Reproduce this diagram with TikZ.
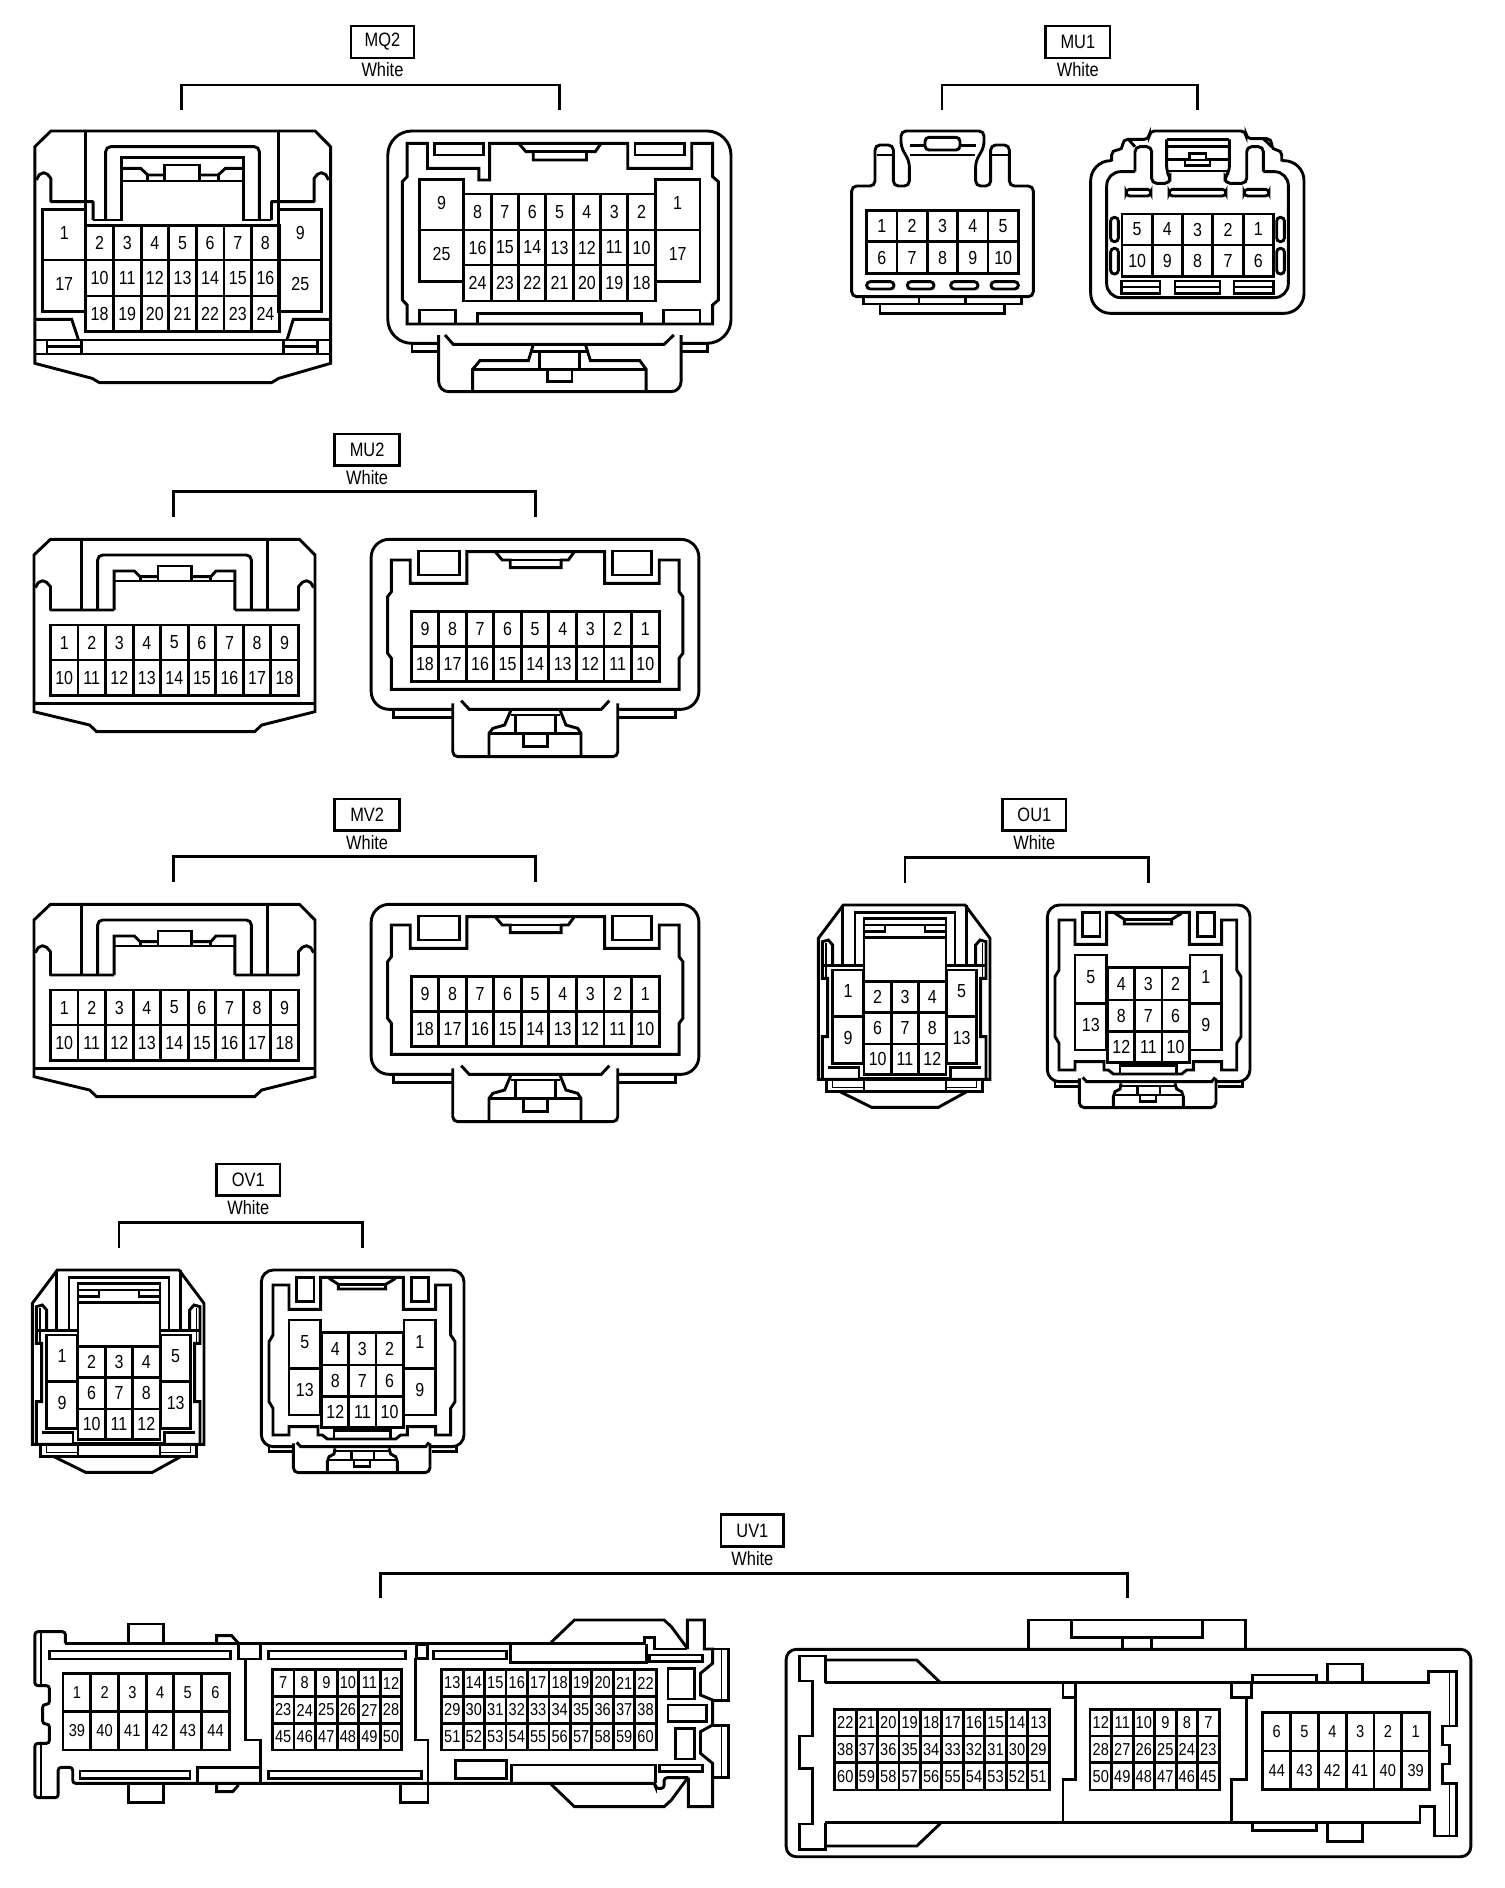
\documentclass[tikz,border=0pt]{standalone}
\usepackage{fontspec}
\usepackage{graphicx}
\setmainfont{Liberation Sans}
\newcommand\T[1]{\scalebox{1}[1.18]{#1}}
\tikzset{
  ln/.style={line width=1.45pt,line join=miter,line cap=butt},
  thn/.style={line width=0.8pt},
  pin/.style={inner sep=0pt,font=\fontsize{8}{9}\selectfont},
  lab/.style={inner sep=0pt,font=\fontsize{8.2}{9}\selectfont},
  rc/.style={rounded corners=2.5pt},
  rcb/.style={rounded corners=9pt},
  panelA/.style={x=0.24237pt,y=-0.16667pt},
  panelB/.style={x=0.16667pt,y=-0.16667pt},
  panelC/.style={x=0.2374pt,y=-0.16667pt},
  panelD/.style={x=0.2358pt,y=-0.16667pt}
}
% row of cells: prefix, y0, y1, x0, dx, labels
\newcommand\pinrow[6]{\foreach \t [count=\i from 0] in {#6}{%
  \draw[ln] ({#4+\i*#5},#2) rectangle ({#4+(\i+1)*#5},#3);
  \node[pin] (#1\t) at ({#4+(\i+0.5)*#5},{(#2+#3)/2}) {\T{\t}};}}
% single cell: prefix, x0,y0,x1,y1,label
\newcommand\cell[6]{\draw[ln] (#2,#3) rectangle (#4,#5);
  \node[pin] (#1#6) at ({(#2+#4)/2},{(#3+#5)/2-6}) {\T{#6}};}
% header
\newcommand\hdr[9]{\draw[ln] (#3,#4) rectangle (#5,#6);
  \node[lab] (#1box) at ({(#3+#5)/2},{(#4+#6)/2}) {\T{#2}};
  \node[lab] (#1col) at ({(#3+#5)/2},{#6+36}) {\T{White}};
  \coordinate (#1a) at (#7,{#8+75});
  \coordinate (#1b) at (#7,#8);
  \coordinate (#1c) at (#9,#8);
  \coordinate (#1d) at (#9,{#8+75});
  \draw[ln] (#1a) -- (#1b) -- (#1c) -- (#1d);}
\newcommand\slot[4]{\draw[ln,rounded corners=1.8pt] (#1,#2) rectangle (#3,#4);}
% MU2 / MV2 pair
\newcommand\connMU[2]{%
  \hdr{#1}{#2}{710}{42}{847}{137}{368}{215}{1135}
  % left
  \draw[ln] (107,358) -- (635,358) -- (668,405) -- (668,875) -- (555,915) -- (540,935) -- (205,935) -- (190,915) -- (72,875) -- (72,405) -- cycle;
  \draw[ln] (72,850) -- (668,850);
  \draw[ln,rc] (172,570) -- (172,358);
  \draw[ln,rc] (568,358) -- (568,570);
  \draw[ln,rc] (207,570) -- (207,405) -- (533,405) -- (533,570);
  \draw[ln] (242,570) -- (242,453) -- (285,453) -- (297,470) -- (335,470);
  \draw[ln] (335,438) rectangle (407,483);
  \draw[ln] (407,470) -- (447,470) -- (458,453) -- (498,453) -- (498,570);
  \draw[ln] (242,483) -- (498,483);
  \draw[ln] (297,470) -- (297,483) (447,470) -- (447,483);
  \draw[ln,line join=round] (242,570) -- (107,570) -- (107,500) -- (99,487) -- (90,482) -- (81,488) -- (75,503);
  \draw[ln,line join=round] (498,570) -- (633,570) -- (633,500) -- (641,487) -- (650,482) -- (659,488) -- (665,503);
  \pinrow{#1l}{615}{720}{107}{58.4}{1,2,3,4,5,6,7,8,9}
  \pinrow{#1l}{720}{827}{107}{58.4}{10,11,12,13,14,15,16,17,18}
  % right
  \draw[ln,rcb] (960,868) -- (787,868) -- (787,358) -- (1482,358) -- (1482,868) -- (1310,868);
  \draw[ln] (835,868) -- (835,892) -- (960,892);
  \draw[ln] (1310,892) -- (1432,892) -- (1432,868);
  \draw[ln,rc] (960,850) -- (960,1010) -- (1310,1010) -- (1310,850);
  \draw[ln] (830,420) -- (870,420) -- (870,490) -- (990,490) -- (990,395) -- (1282,395) -- (1282,490) -- (1398,490) -- (1398,420) -- (1440,420) -- (1440,515) -- (1448,530) -- (1448,700) -- (1440,715) -- (1440,808) -- (830,808) -- (830,715) -- (822,700) -- (822,530) -- (830,515) -- cycle;
  \draw[ln] (888,393) rectangle (975,465);
  \draw[ln] (1298,393) rectangle (1382,465);
  \draw[ln] (1050,395) -- (1065,420) -- (1082,420) -- (1082,443) -- (1190,443) -- (1190,420) -- (1205,420) -- (1218,395);
  \draw[ln] (1065,420) -- (1205,420);
  \draw[ln] (978,842) -- (995,868) -- (1275,868) -- (1292,842);
  \draw[ln] (1083,872) -- (1070,915) -- (1045,925) -- (1037,940) -- (1037,1005);
  \draw[ln] (1188,872) -- (1200,915) -- (1225,925) -- (1232,940) -- (1232,1005);
  \draw[ln] (1037,940) -- (1232,940);
  \draw[ln] (1083,885) -- (1188,885);
  \draw[ln] (1093,885) -- (1093,940) (1177,885) -- (1177,940);
  \draw[ln] (1110,940) -- (1110,980) -- (1160,980) -- (1160,940);
  \pinrow{#1r}{575}{680}{872}{58.4}{9,8,7,6,5,4,3,2,1}
  \pinrow{#1r}{680}{785}{872}{58.4}{18,17,16,15,14,13,12,11,10}
}
% OU1 / OV1 pair, panel B coordinates
\newcommand\connOU[2]{%
  \hdr{#1}{#2}{638}{27}{828}{122}{345}{203}{1075}
  % left
  \draw[ln] (160,345) -- (525,345) -- (600,445) -- (600,868) -- (85,868) -- (85,445) -- cycle;
  \draw[ln] (110,868) -- (110,905) -- (578,905) -- (578,868);
  \draw[ln] (150,905) -- (245,952) -- (445,952) -- (530,905);
  \draw[thn] (128,868) -- (128,893) -- (222,893) (560,868) -- (560,893) -- (470,893);
  \draw[ln] (222,868) -- (222,905) (468,868) -- (468,905);
  \draw[ln] (158,345) -- (158,525) (530,345) -- (530,525);
  \draw[ln] (195,525) -- (195,367) -- (495,367) -- (495,525);
  \draw[ln] (222,575) -- (222,385) -- (468,385) -- (468,575);
  \draw[ln] (222,405) -- (468,405) (222,442) -- (468,442);
  \draw[ln] (222,425) -- (285,425) -- (285,405) (405,405) -- (405,425) -- (468,425);
  \draw[ln] (97,868) -- (97,740) -- (113,740) -- (113,565) -- (97,565) -- (97,455) -- (115,450) -- (128,465) -- (128,527);
  \draw[ln] (588,868) -- (588,740) -- (572,740) -- (572,565) -- (588,565) -- (588,455) -- (570,450) -- (557,465) -- (557,527);
  \draw[thn] (108,460) -- (108,560) (577,460) -- (577,560);
  \draw[ln] (97,527) -- (222,527) (468,527) -- (588,527);
  \draw[ln] (113,832) -- (207,832) -- (207,866) -- (481,866) -- (481,832) -- (572,832);
  \cell{#1l}{128}{540}{220}{680}{1}
  \cell{#1l}{128}{680}{220}{820}{9}
  \cell{#1l}{470}{540}{560}{680}{5}
  \cell{#1l}{470}{680}{560}{820}{13}
  \pinrow{#1l}{575}{668}{222}{82}{2,3,4}
  \pinrow{#1l}{668}{762}{222}{82}{6,7,8}
  \pinrow{#1l}{762}{853}{222}{82}{10,11,12}
  % right
  \draw[ln,rounded corners=6pt] (868,875) -- (772,875) -- (772,345) -- (1380,345) -- (1380,875) -- (1278,875);
  \draw[ln] (795,875) -- (795,890) -- (868,890) (1285,890) -- (1358,890) -- (1358,875);
  \draw[ln,rc] (868,865) -- (868,953) -- (1278,953) -- (1278,865);
  \draw[ln] (807,390) -- (855,390) -- (855,463) -- (950,463) -- (950,367) -- (1198,367) -- (1198,463) -- (1295,463) -- (1295,390) -- (1340,390) -- (1340,540) -- (1353,560) -- (1353,740) -- (1340,760) -- (1340,840) -- (1295,840) -- (1295,815) -- (1210,815) -- (1210,840) -- (1190,840) -- (1175,852) -- (970,852) -- (955,840) -- (942,840) -- (942,815) -- (855,815) -- (855,840) -- (807,840) -- (807,760) -- (795,740) -- (795,560) -- (807,540) -- cycle;
  \draw[ln] (990,852) -- (990,827) -- (1160,827) -- (1160,852);
  \draw[ln] (878,367) rectangle (930,440);
  \draw[ln] (1222,367) rectangle (1273,440);
  \draw[ln] (975,370) -- (1003,388) -- (1003,402) -- (1145,402) -- (1145,388) -- (1175,370);
  \draw[ln] (1003,388) -- (1145,388);
  \draw[ln] (878,862) -- (890,875) -- (1265,875) -- (1275,862);
  \draw[ln] (993,880) -- (990,897) -- (975,905) -- (970,920) -- (970,950);
  \draw[ln] (1155,880) -- (1160,897) -- (1175,905) -- (1180,920) -- (1180,950);
  \draw[ln] (970,915) -- (1180,915) (993,888) -- (1155,888);
  \draw[ln] (1043,888) -- (1043,915) (1110,888) -- (1110,915);
  \draw[ln] (1050,915) -- (1050,935) -- (1098,935) -- (1098,915);
  \cell{#1r}{855}{495}{950}{640}{5}
  \cell{#1r}{855}{640}{950}{780}{13}
  \cell{#1r}{1200}{495}{1295}{640}{1}
  \cell{#1r}{1200}{640}{1295}{780}{9}
  \pinrow{#1r}{533}{630}{953}{81.5}{4,3,2}
  \pinrow{#1r}{630}{725}{953}{81.5}{8,7,6}
  \pinrow{#1r}{725}{818}{953}{81.5}{12,11,10}
}
\begin{document}
\begin{tikzpicture}[x=0.5pt,y=-0.5pt]
\useasboundingbox (0,0) rectangle (1504,1888);
% ============ MQ2
\begin{scope}[panelA]
  \hdr{mq}{MQ2}{724}{78}{854}{174}{375}{255}{1155}
  % left connector
  \draw[ln] (105,393) -- (650,393) -- (682,440) -- (682,1090) -- (575,1135) -- (560,1148) -- (205,1148) -- (190,1135) -- (72,1090) -- (72,440) -- cycle;
  \draw[ln,rc] (176,660) -- (176,393);
  \draw[ln,rc] (575,393) -- (575,660);
  \draw[ln,line join=round] (192,660) -- (192,605) -- (105,605) -- (105,535) -- (98,523) -- (90,518) -- (81,524) -- (75,540);
  \draw[ln,line join=round] (560,660) -- (560,605) -- (648,605) -- (648,535) -- (655,523) -- (663,518) -- (672,524) -- (678,540);
  \draw[ln,rc] (218,660) -- (218,440) -- (535,440) -- (535,660);
  \draw[ln] (192,660) -- (250,660) -- (250,473) -- (503,473) -- (503,660) -- (560,660);
  \draw[ln] (250,505) -- (290,505) -- (305,525) -- (340,525);
  \draw[ln] (340,495) rectangle (412,543);
  \draw[ln] (412,525) -- (450,525) -- (465,505) -- (503,505);
  \draw[ln] (250,543) -- (503,543);
  \draw[ln] (305,525) -- (305,543) (450,525) -- (450,543);
  \cell{mql}{88}{628}{177}{780}{1}
  \cell{mql}{88}{780}{177}{935}{17}
  \cell{mql}{575}{628}{664}{780}{9}
  \cell{mql}{575}{780}{664}{935}{25}
  \pinrow{mql}{677}{780}{177}{57}{2,3,4,5,6,7,8}
  \pinrow{mql}{780}{888}{177}{57}{10,11,12,13,14,15,16}
  \pinrow{mql}{888}{994}{177}{57}{18,19,20,21,22,23,24}
  \draw[ln] (72,958) -- (148,958) -- (162,1020);
  \draw[ln] (682,958) -- (605,958) -- (592,1020);
  \draw[ln] (72,1020) -- (682,1020) (72,1062) -- (682,1062);
  \draw[ln] (97,1020) -- (97,1062) (168,1020) -- (168,1062) (585,1020) -- (585,1062) (655,1020) -- (655,1062);
  \draw[ln] (97,1040) -- (168,1040) (585,1040) -- (655,1040);
  % right connector
  \draw[ln,rounded corners=12pt] (905,1030) -- (800,1030) -- (800,393) -- (1508,393) -- (1508,1030) -- (1405,1030);
  \draw[ln] (850,1030) -- (850,1055) -- (905,1055);
  \draw[ln] (1405,1055) -- (1460,1055) -- (1460,1030);
  \draw[ln,rounded corners=5pt] (905,1005) -- (905,1175) -- (1405,1175) -- (1405,1005);
  \draw[ln] (840,430) -- (882,430) -- (882,505) -- (988,505) -- (988,540) -- (1010,540) -- (1010,430) -- (1295,430) -- (1295,505) -- (1427,505) -- (1427,430) -- (1470,430) -- (1470,530) -- (1482,545) -- (1482,900) -- (1470,915) -- (1470,972) -- (840,972) -- (840,915) -- (830,900) -- (830,545) -- (840,530) -- cycle;
  \draw[ln] (897,430) rectangle (997,465);
  \draw[ln] (1310,430) rectangle (1412,465);
  \draw[ln] (1070,430) -- (1085,455) -- (1100,455) -- (1100,480) -- (1210,480) -- (1210,455) -- (1228,455) -- (1240,430);
  \draw[ln] (1085,455) -- (1228,455);
  \cell{mqr}{865}{538}{957}{690}{9}
  \cell{mqr}{865}{690}{957}{845}{25}
  \cell{mqr}{1352}{538}{1444}{690}{1}
  \cell{mqr}{1352}{690}{1444}{845}{17}
  \pinrow{mqr}{582}{690}{957}{56.4}{8,7,6,5,4,3,2}
  \pinrow{mqr}{690}{795}{957}{56.4}{16,15,14,13,12,11,10}
  \pinrow{mqr}{795}{903}{957}{56.4}{24,23,22,21,20,19,18}
  \draw[ln] (865,972) -- (865,930) -- (940,930) -- (940,972);
  \draw[ln] (985,972) -- (985,940) -- (1323,940) -- (1323,972);
  \draw[ln] (1368,972) -- (1368,930) -- (1444,930) -- (1444,972);
  \draw[ln] (918,1005) -- (935,1033) -- (1370,1033) -- (1390,1005);
  \draw[ln] (1100,1035) -- (1090,1082) -- (990,1082) -- (975,1108) -- (975,1172);
  \draw[ln] (1208,1035) -- (1218,1082) -- (1320,1082) -- (1333,1108) -- (1333,1172);
  \draw[ln] (975,1108) -- (1333,1108);
  \draw[ln] (1113,1055) -- (1113,1108) (1195,1055) -- (1195,1108);
  \draw[ln] (1098,1055) -- (1210,1055);
  \draw[ln] (1130,1108) -- (1130,1145) -- (1180,1145) -- (1180,1108);
\end{scope}
% ============ MU1
\begin{scope}[shift={(820,0)},panelB]
  \hdr{mua}{MU1}{677}{78}{870}{174}{366}{255}{1133}
  \draw[ln,rc] (165,558) -- (165,435) -- (220,435) -- (220,558) -- (268,558) -- (268,485) -- (243,440) -- (243,393) -- (492,393) -- (492,440) -- (467,485) -- (467,558) -- (512,558) -- (512,435) -- (568,435) -- (568,558) -- (640,558) -- (640,890) -- (95,890) -- (95,558) -- cycle;
  \draw[ln] (170,465) -- (215,465) (517,465) -- (563,465);
  \draw[ln] (270,437) -- (315,437) (420,437) -- (467,437) (270,465) -- (465,465);
  \draw[ln,rounded corners=2pt] (315,450) -- (315,412) -- (420,412) -- (420,450) -- cycle;
  \pinrow{mual}{632}{725}{140}{91}{1,2,3,4,5}
  \pinrow{mual}{725}{820}{140}{91}{6,7,8,9,10}
  \slot{140}{845}{222}{867}\slot{262}{845}{342}{867}\slot{392}{845}{474}{867}\slot{513}{845}{595}{867}
  \draw[ln] (130,890) -- (130,912) -- (605,912) -- (605,890);
  \draw[ln] (180,912) -- (180,940) -- (553,940) -- (553,912);
  \draw[ln] (297,890) -- (297,912) (437,890) -- (437,912);
  % right
  \draw[ln,rounded corners=10pt] (875,482) -- (812,482) -- (812,940) -- (1452,940) -- (1452,482) -- (1385,482);
  \draw[ln,rc] (875,484) -- (875,450) -- (908,450) -- (908,418) -- (988,418) -- (988,393) -- (1278,393) -- (1278,416) -- (1355,416) -- (1355,450) -- (1385,450) -- (1385,484);
  \draw[ln,rounded corners=7pt] (945,515) -- (860,515) -- (860,893) -- (1405,893) -- (1405,515) -- (1330,515);
  \draw[ln,rc] (1040,418) -- (1040,515) -- (1050,530) -- (1050,550) -- (995,550) -- (995,440) -- (945,440) -- (945,515);
  \draw[ln,rc] (1228,418) -- (1228,515) -- (1215,530) -- (1215,550) -- (1280,550) -- (1280,440) -- (1330,440) -- (1330,515);
  \draw[ln] (925,418) -- (945,440) (1330,416) -- (1355,440);
  \draw[ln] (1040,418) -- (1228,418);
  \draw[ln] (1040,440) -- (1228,440) (1040,478) -- (1108,478) (1158,478) -- (1228,478) (1042,513) -- (1228,513);
  \draw[ln] (1108,480) -- (1108,460) -- (1158,460) -- (1158,480);
  \draw[ln] (1095,480) rectangle (1170,497);
  \slot{918}{568}{993}{588}\slot{1047}{568}{1218}{588}\slot{1272}{568}{1347}{588}
  \pinrow{muar}{642}{735}{906}{90.8}{5,4,3,2,1}
  \pinrow{muar}{735}{830}{906}{90.8}{10,9,8,7,6}
  \slot{872}{652}{895}{725}\slot{872}{745}{895}{822}\slot{1370}{652}{1393}{725}\slot{1370}{745}{1393}{822}
  \draw[ln] (905,843) rectangle (1020,880) (905,861) -- (1020,861);
  \draw[ln] (1065,843) rectangle (1200,880) (1065,861) -- (1200,861);
  \draw[ln] (1242,843) rectangle (1360,880) (1242,861) -- (1360,861);
\end{scope}
% ============ MU2, MV2
\begin{scope}[shift={(0,420)},panelD]\connMU{mub}{MU2}\end{scope}
\begin{scope}[shift={(0,785)},panelD]\connMU{mv}{MV2}\end{scope}
% ============ OU1, OV1
\begin{scope}[shift={(790,790)},panelB]\connOU{ou}{OU1}\end{scope}
\begin{scope}[shift={(4,1155)},panelB]\connOU{ov}{OV1}\end{scope}
% ============ UV1 header
\begin{scope}[shift={(0,1520)},x=0.5pt,y=-0.16667pt]
  \hdr{uv}{UV1}{721}{-16}{783.7}{80}{380.5}{160}{1127.6}
\end{scope}
% ============ UV1 left
\begin{scope}[shift={(0,1520)},panelA,pin/.append style={font=\fontsize{7.3}{9}\selectfont}]
  \draw[ln,rounded corners=1.5pt] (135,370) -- (135,335) -- (72,335) -- (72,497) -- (102,497) -- (102,553) -- (88,553) -- (88,612) -- (102,612) -- (102,670) -- (72,670) -- (72,833) -- (120,833) -- (120,742) -- (150,742) -- (150,790) -- (1352,790) -- (1352,805) -- (1370,805) -- (1370,773) -- (1420,773);
  \draw[ln] (135,370) -- (1330,370) -- (1330,353) -- (1350,353) -- (1350,387) -- (1418,387);
  \draw[thn] (85,335) -- (85,497) (85,670) -- (85,833);
  \draw[ln] (265,370) -- (265,312) -- (337,312) -- (337,370);
  \draw[ln] (265,790) -- (265,848) -- (337,848) -- (337,790);
  \draw[ln] (447,370) -- (447,347) -- (478,347) -- (492,370);
  \draw[ln] (447,790) -- (447,815) -- (480,815) -- (492,795);
  \draw[ln] (827,790) -- (827,848) -- (883,848) -- (883,790);
  \draw[ln] (1137,367) -- (1185,300) -- (1370,300) -- (1385,320) -- (1418,385);
  \draw[ln] (1137,793) -- (1185,860) -- (1370,860) -- (1385,840) -- (1418,775);
  \draw[ln] (1418,387) -- (1418,300) -- (1453,300) -- (1453,387) -- (1470,387) -- (1470,430) -- (1445,460) -- (1445,525) -- (1470,540) -- (1470,615) -- (1445,635) -- (1445,700) -- (1470,730) -- (1470,860) -- (1420,860) -- (1420,773);
  \draw[ln] (1470,387) -- (1502,387) -- (1502,542) -- (1470,542);
  \draw[ln] (1470,617) -- (1502,617) -- (1502,773) -- (1470,773);
  \draw[thn] (1488,390) -- (1488,540) (1488,620) -- (1488,770);
  \draw[ln] (103,393) rectangle (475,417);
  \draw[ln] (553,393) rectangle (836,417);
  \draw[ln] (895,393) rectangle (1045,417);
  \draw[ln] (165,753) rectangle (392,775);
  \draw[ln] (553,753) rectangle (870,775);
  \draw[ln] (492,370) rectangle (538,417);
  \draw[ln] (860,373) rectangle (882,415);
  \draw[ln] (507,417) -- (507,660) -- (538,660) -- (538,790);
  \draw[ln] (858,415) -- (858,660) -- (883,660) -- (883,790);
  \draw[ln] (407,790) -- (407,742) -- (538,742);
  \draw[ln] (1053,373) -- (1053,428) -- (1333,428) -- (1333,373);
  \draw[ln] (1055,790) -- (1055,735) -- (1352,735) -- (1352,790);
  \draw[ln] (940,722) rectangle (1045,775);
  \draw[ln] (1340,405) rectangle (1450,425);
  \draw[ln] (1360,735) rectangle (1450,755);
  \draw[ln] (1378,445) rectangle (1432,537);
  \draw[ln] (1378,555) rectangle (1457,605);
  \draw[ln] (1393,625) rectangle (1432,717);
  \pinrow{uvl}{460}{575}{130}{57.2}{1,2,3,4,5,6}
  \pinrow{uvl}{575}{690}{130}{57.2}{39,40,41,42,43,44}
  \pinrow{uvl}{448}{530}{562}{44.5}{7,8,9,10,11,12}
  \pinrow{uvl}{530}{610}{562}{44.5}{23,24,25,26,27,28}
  \pinrow{uvl}{610}{690}{562}{44.5}{45,46,47,48,49,50}
  \pinrow{uvl}{448}{530}{911}{44.3}{13,14,15,16,17,18,19,20,21,22}
  \pinrow{uvl}{530}{610}{911}{44.3}{29,30,31,32,33,34,35,36,37,38}
  \pinrow{uvl}{610}{690}{911}{44.3}{51,52,53,54,55,56,57,58,59,60}
\end{scope}
% ============ UV1 right
\begin{scope}[shift={(761,1520)},panelC,pin/.append style={font=\fontsize{7.3}{9}\selectfont}]
  \draw[ln,rounded corners=5pt] (53,388) rectangle (1495,1010);
  \draw[ln] (563,388) -- (563,300) -- (1020,300) -- (1020,388);
  \draw[ln] (653,303) -- (653,353) -- (930,353) -- (930,303);
  \draw[ln] (762,353) -- (762,388) (822,353) -- (822,388);
  \draw[ln] (135,488) -- (135,408) -- (82,408) -- (82,483) -- (108,483) -- (108,648) -- (82,648) -- (82,745) -- (108,745) -- (108,912) -- (82,912) -- (82,988) -- (135,988) -- (135,908);
  \draw[ln] (135,420) -- (328,420) -- (378,488);
  \draw[ln] (135,978) -- (328,978) -- (378,910);
  \draw[ln] (135,488) -- (1405,488) -- (1405,455) -- (1465,455) -- (1465,618) -- (1435,618) -- (1435,675) -- (1450,675) -- (1450,732) -- (1435,732) -- (1435,790) -- (1465,790) -- (1465,948) -- (1418,948) -- (1418,860) -- (1388,860) -- (1388,908) -- (135,908);
  \draw[thn] (1450,455) -- (1450,618) (1450,790) -- (1450,948);
  \draw[ln] (636,488) -- (636,533) -- (662,533) -- (662,778) -- (636,778) -- (636,908);
  \draw[ln] (662,488) -- (662,533);
  \draw[ln] (990,488) -- (990,533) -- (1033,533) -- (1033,488);
  \draw[ln] (1022,533) -- (1022,778) -- (990,778) -- (990,908);
  \draw[ln] (1035,488) -- (1035,465) -- (1170,465) -- (1170,488);
  \draw[ln] (1193,488) -- (1193,432) -- (1267,432) -- (1267,488);
  \draw[ln] (1035,908) -- (1035,932) -- (1170,932) -- (1170,908);
  \draw[ln] (1193,908) -- (1193,965) -- (1267,965) -- (1267,908);
  \pinrow{uvr}{568}{648}{155}{45.2}{22,21,20,19,18,17,16,15,14,13}
  \pinrow{uvr}{648}{728}{155}{45.2}{38,37,36,35,34,33,32,31,30,29}
  \pinrow{uvr}{728}{810}{155}{45.2}{60,59,58,57,56,55,54,53,52,51}
  \pinrow{uvr}{568}{648}{693}{45.3}{12,11,10,9,8,7}
  \pinrow{uvr}{648}{728}{693}{45.3}{28,27,26,25,24,23}
  \pinrow{uvr}{728}{810}{693}{45.3}{50,49,48,47,46,45}
  \pinrow{uvr}{578}{693}{1057}{58.5}{6,5,4,3,2,1}
  \pinrow{uvr}{693}{808}{1057}{58.5}{44,43,42,41,40,39}
\end{scope}
\end{tikzpicture}
\end{document}
